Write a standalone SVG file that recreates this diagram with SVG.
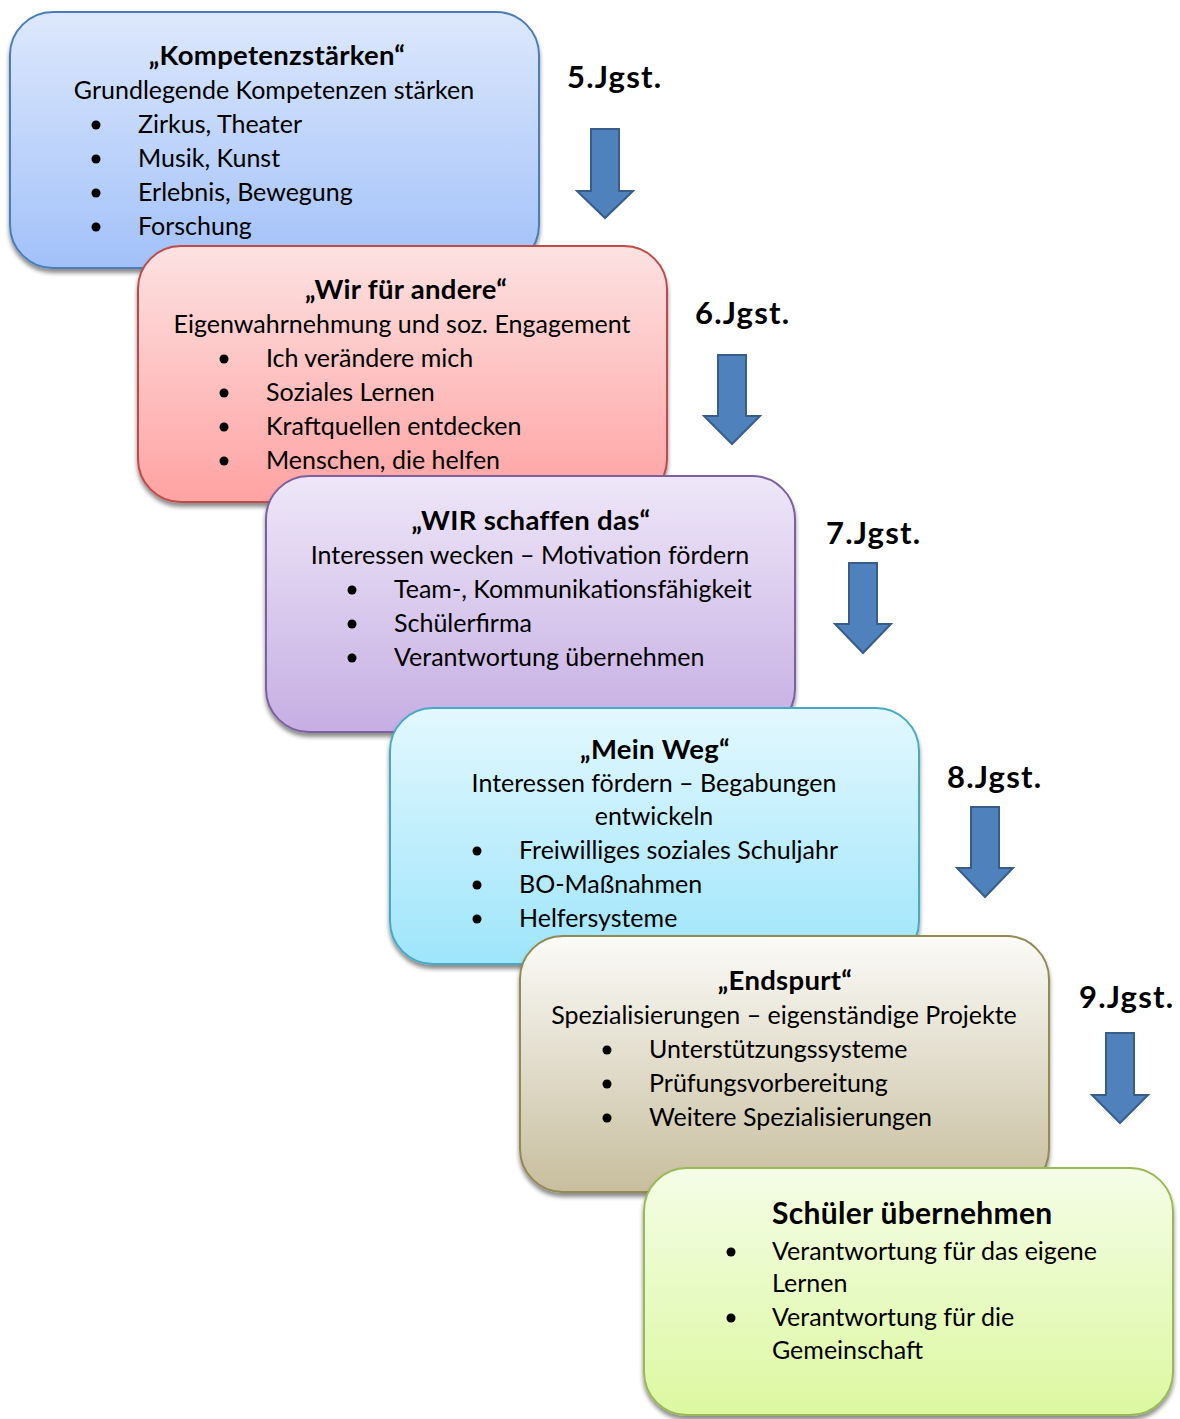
<svg xmlns="http://www.w3.org/2000/svg" width="1180" height="1419" viewBox="0 0 1180 1419">
<style>
text{font-family:Lato,"Open Sans","Liberation Sans",sans-serif;fill:#000}
.t{font-size:27.5px;font-weight:bold;text-anchor:middle;letter-spacing:0.3px}
.s{font-size:25px;text-anchor:middle}
.b{font-size:25px}
.j{font-size:31px;font-weight:bold;letter-spacing:1.2px}
.arr{fill:#4f81bd;stroke:#385d8a;stroke-width:2}
.box{stroke-width:2;filter:url(#sh)}
</style>
<defs>
<filter id="sh" x="-5%" y="-5%" width="110%" height="115%">
<feDropShadow dx="0" dy="4" stdDeviation="2" flood-color="#000" flood-opacity="0.45"/>
</filter>
<linearGradient id="g1" x1="0" y1="0" x2="0" y2="1"><stop offset="0" stop-color="#dde8fc"/><stop offset="1" stop-color="#a2c1f9"/></linearGradient>
<linearGradient id="g2" x1="0" y1="0" x2="0" y2="1"><stop offset="0" stop-color="#fde2e2"/><stop offset="1" stop-color="#ffa2a2"/></linearGradient>
<linearGradient id="g3" x1="0" y1="0" x2="0" y2="1"><stop offset="0" stop-color="#eee7f8"/><stop offset="1" stop-color="#c6aee3"/></linearGradient>
<linearGradient id="g4" x1="0" y1="0" x2="0" y2="1"><stop offset="0" stop-color="#e3f8fe"/><stop offset="1" stop-color="#9ee5fb"/></linearGradient>
<linearGradient id="g5" x1="0" y1="0" x2="0" y2="1"><stop offset="0" stop-color="#fbfbf8"/><stop offset="1" stop-color="#c8be9e"/></linearGradient>
<linearGradient id="g6" x1="0" y1="0" x2="0" y2="1"><stop offset="0" stop-color="#f4fde7"/><stop offset="1" stop-color="#dcf8a0"/></linearGradient>
</defs>

<g id="node-5">
<rect class="box" x="10" y="12" width="529" height="256" rx="43" fill="url(#g1)" stroke="#4a7ebb"/>
<text class="t" x="277" y="65">„Kompetenzstärken“</text>
<text class="s" x="274" y="99">Grundlegende Kompetenzen stärken</text>
<circle cx="96" cy="125" r="4.5"/><text class="b" x="138" y="133">Zirkus, Theater</text>
<circle cx="96" cy="159" r="4.5"/><text class="b" x="138" y="167">Musik, Kunst</text>
<circle cx="96" cy="193" r="4.5"/><text class="b" x="138" y="201">Erlebnis, Bewegung</text>
<circle cx="96" cy="227" r="4.5"/><text class="b" x="138" y="235">Forschung</text>
</g>

<g id="node-6">
<rect class="box" x="138" y="246" width="529" height="256" rx="43" fill="url(#g2)" stroke="#be4b48"/>
<text class="t" x="406" y="299">„Wir für andere“</text>
<text class="s" x="402" y="333">Eigenwahrnehmung und soz. Engagement</text>
<circle cx="224" cy="359" r="4.5"/><text class="b" x="266" y="367">Ich verändere mich</text>
<circle cx="224" cy="393" r="4.5"/><text class="b" x="266" y="401">Soziales Lernen</text>
<circle cx="224" cy="427" r="4.5"/><text class="b" x="266" y="435">Kraftquellen entdecken</text>
<circle cx="224" cy="461" r="4.5"/><text class="b" x="266" y="469">Menschen, die helfen</text>
</g>

<g id="node-7">
<rect class="box" x="266" y="476" width="529" height="256" rx="43" fill="url(#g3)" stroke="#7d60a0"/>
<text class="t" x="531" y="530">„WIR schaffen das“</text>
<text class="s" x="530" y="564">Interessen wecken – Motivation fördern</text>
<circle cx="352" cy="590" r="4.5"/><text class="b" x="394" y="598">Team-, Kommunikationsfähigkeit</text>
<circle cx="352" cy="624" r="4.5"/><text class="b" x="394" y="632">Schülerfirma</text>
<circle cx="352" cy="658" r="4.5"/><text class="b" x="394" y="666">Verantwortung übernehmen</text>
</g>

<g id="node-8">
<rect class="box" x="390" y="708" width="529" height="256" rx="43" fill="url(#g4)" stroke="#46aac5"/>
<text class="t" x="655" y="759">„Mein Weg“</text>
<text class="s" x="654" y="792">Interessen fördern – Begabungen</text>
<text class="s" x="654" y="825">entwickeln</text>
<circle cx="477" cy="851" r="4.5"/><text class="b" x="519" y="859">Freiwilliges soziales Schuljahr</text>
<circle cx="477" cy="885" r="4.5"/><text class="b" x="519" y="893">BO-Maßnahmen</text>
<circle cx="477" cy="919" r="4.5"/><text class="b" x="519" y="927">Helfersysteme</text>
</g>

<g id="node-9">
<rect class="box" x="520" y="936" width="529" height="256" rx="43" fill="url(#g5)" stroke="#938953"/>
<text class="t" x="785" y="990">„Endspurt“</text>
<text class="s" x="784" y="1024">Spezialisierungen – eigenständige Projekte</text>
<circle cx="607" cy="1050" r="4.5"/><text class="b" x="649" y="1058">Unterstützungssysteme</text>
<circle cx="607" cy="1084" r="4.5"/><text class="b" x="649" y="1092">Prüfungsvorbereitung</text>
<circle cx="607" cy="1118" r="4.5"/><text class="b" x="649" y="1126">Weitere Spezialisierungen</text>
</g>

<g id="node-final">
<rect class="box" x="644" y="1168" width="529" height="247" rx="43" fill="url(#g6)" stroke="#98b954"/>
<text x="772" y="1224" style="font-size:30px;font-weight:bold;letter-spacing:0.3px">Schüler übernehmen</text>
<circle cx="731" cy="1252" r="4.5"/><text class="b" x="772" y="1260">Verantwortung für das eigene</text>
<text class="b" x="772" y="1292">Lernen</text>
<circle cx="731" cy="1318" r="4.5"/><text class="b" x="772" y="1326">Verantwortung für die</text>
<text class="b" x="772" y="1359">Gemeinschaft</text>
</g>

<g id="labels">
<text class="j" x="567" y="88">5.Jgst.</text>
<text class="j" x="695" y="324">6.Jgst.</text>
<text class="j" x="826" y="544">7.Jgst.</text>
<text class="j" x="947" y="788">8.Jgst.</text>
<text class="j" x="1079" y="1008">9.Jgst.</text>
</g>

<g id="connectors">
<path class="arr" d="M591,129 H619 V191 H633 L605,218 L577,191 H591 Z"/>
<path class="arr" d="M718,355 H746 V416 H760 L732,444 L704,416 H718 Z"/>
<path class="arr" d="M849,563 H877 V624 H891 L863,653 L835,624 H849 Z"/>
<path class="arr" d="M971,807 H999 V868 H1013 L985,897 L957,868 H971 Z"/>
<path class="arr" d="M1106,1033 H1134 V1095 H1148 L1120,1123 L1092,1095 H1106 Z"/>
</g>
</svg>
